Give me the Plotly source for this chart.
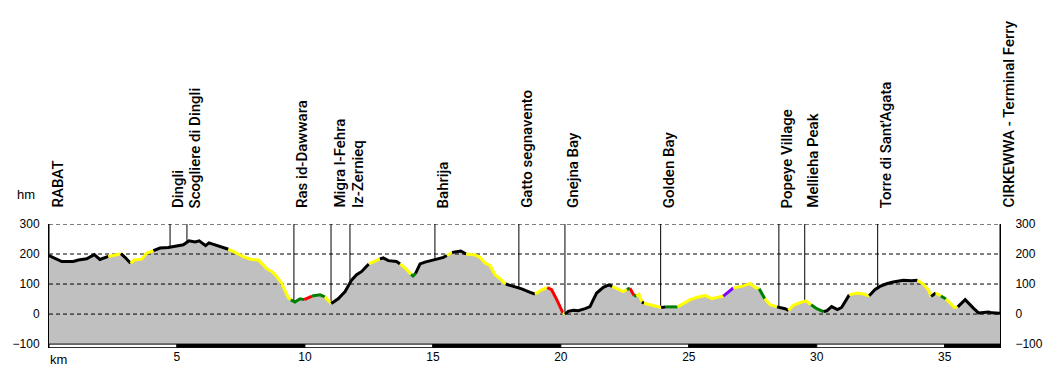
import numpy as np
import plotly.graph_objects as go

# ---- profile data (km, metres) and colour of the segment that starts at each point
km = [0.00, 0.23, 0.50, 0.95, 1.15, 1.47, 1.77, 1.99, 2.19, 2.32, 2.58, 2.81, 2.97, 3.19, 3.33, 3.62, 3.82,
      4.08, 4.34, 4.66, 5.05, 5.25, 5.47, 5.71, 5.87, 6.12, 6.25, 6.49, 6.68, 6.85, 7.01, 7.40, 7.66, 7.92,
      8.18, 8.37, 8.51, 8.70, 8.90, 9.09, 9.22, 9.35, 9.45, 9.61, 9.81, 9.94, 9.97, 10.28, 10.59, 10.78,
      11.03, 11.30, 11.57, 11.83, 12.02, 12.22, 12.41, 12.50, 12.74, 12.93, 13.06, 13.26, 13.58, 13.72,
      13.98, 14.15, 14.22, 14.32, 14.50, 14.69, 14.96, 15.15, 15.41, 15.55, 15.75, 16.09, 16.30, 16.65,
      16.84, 17.04, 17.23, 17.43, 17.63, 17.85, 18.21, 18.47, 18.80, 18.99, 19.25, 19.47, 19.64, 19.84,
      20.03, 20.08, 20.16, 20.29, 20.49, 20.68, 20.95, 21.14, 21.27, 21.40, 21.66, 21.88, 22.01, 22.25,
      22.44, 22.58, 22.70, 22.86, 22.96, 23.05, 23.17, 23.25, 23.49, 23.75, 23.92, 24.10, 24.56, 24.73,
      24.98, 25.05, 25.31, 25.64, 25.90, 26.16, 26.35, 26.74, 27.13, 27.39, 27.59, 27.75, 27.97, 28.18,
      28.45, 28.76, 28.90, 29.08, 29.35, 29.57, 29.78, 30.00, 30.26, 30.39, 30.58, 30.81, 30.97, 31.10,
      31.27, 31.56, 31.82, 32.05, 32.27, 32.47, 32.73, 32.99, 33.38, 33.71, 33.94, 34.16, 34.36, 34.47,
      34.65, 34.85, 35.05, 35.38, 35.51, 35.80, 36.12, 36.32, 36.71, 36.85, 37.16]
elev = [195, 187, 175, 175, 180, 184, 198, 182, 189, 192, 198, 201, 189, 169, 180, 183, 203,
        211, 220, 222, 228, 231, 244, 240, 244, 228, 237, 230, 225, 220, 216, 200, 189, 182,
        180, 164, 151, 142, 125, 103, 81, 55, 47, 40, 51, 47, 48, 60, 64, 57,
        35, 51, 75, 114, 131, 142, 159, 167, 175, 184, 187, 178, 175, 167,
        148, 132, 127, 135, 167, 173, 180, 183, 189, 195, 205, 210, 200, 197,
        189, 170, 162, 131, 117, 100, 90, 84, 72, 67, 81, 88, 81, 48,
        9, 4, 0, 9, 13, 11, 18, 25, 48, 70, 89, 97, 92, 81,
        75, 82, 86, 62, 60, 66, 40, 36, 31, 24, 22, 24, 24, 33,
        44, 48, 55, 62, 51, 55, 60, 87, 94, 102, 89, 84, 51, 31,
        24, 18, 12, 29, 38, 44, 31, 18, 8, 11, 25, 15, 22, 40,
        64, 70, 67, 61, 81, 92, 101, 107, 113, 111, 113, 100, 81, 59,
        70, 60, 50, 22, 24, 48, 20, 4, 7, 4, 3]
seg_color = list(
    "kkkkkkkkkyykkyyyy"
    "kkkkkkkkkkkkkyyyy"
    "yyyyyyyyggggrggy"
    "kkkkkkkyykkkky"
    "yggkkkkkkykkyy"
    "yyyyykkkkyyrrr"
    "rykkkkkkkkkkyy"
    "ygrgyykyyykgyy"
    "yyyyyypyyyygyy"
    "kkyyyyggkkkkkk"
    "yyykkkkkkkyyyk"
    "ygyykkkkkkk"
)
assert len(km) == len(elev) == len(seg_color), (len(km), len(elev), len(seg_color))

color_map = {"k": "#000000", "y": "#FFFF00", "g": "#008000", "r": "#FF0000", "p": "#8000FF"}

# ---- waypoints
wp_names = ["RABAT", "Dingli", "Scogliere di Dingli", "Ras id-Dawwara", "Migra l-Fehra", "Iz-Zernieq",
            "Bahrija", "Gatto segnavento", "Gnejna Bay", "Golden Bay", "Popeye Village", "Mellieha Peak",
            "Torre di Sant'Agata", "CIRKEWWA - Terminal Ferry"]
wp_km = [0.0, 4.73, 5.39, 9.57, 11.02, 11.76, 15.08, 18.36, 20.16, 23.90, 28.52, 29.53, 32.38, 37.16]

y_ticks = [-100, 0, 100, 200, 300]
x_ticks = [5, 10, 15, 20, 25, 30, 35]

x_end = km[-1]
y_min, y_max = -113, 300

fig = go.Figure()

# gray area down to -100
fig.add_trace(go.Scatter(x=km, y=[y_ticks[0]] * len(km), mode="lines", line=dict(width=0),
                         hoverinfo="skip", showlegend=False))
fig.add_trace(go.Scatter(x=km, y=elev, mode="lines", line=dict(width=0), fill="tonexty",
                         fillcolor="#C0C0C0", hoverinfo="skip", showlegend=False))

# dashed grid lines above the area
for v in y_ticks[1:]:
    fig.add_trace(go.Scatter(x=[0, x_end], y=[v, v], mode="lines",
                             line=dict(color="#000000", width=1, dash="4px,3px"),
                             hoverinfo="skip", showlegend=False))

# waypoint lines from top down to profile
wx, wy = [], []
for k in wp_km:
    e = float(np.interp(k, km, elev))
    wx += [k, k, None]
    wy += [y_max, e, None]
fig.add_trace(go.Scatter(x=wx, y=wy, mode="lines", line=dict(color="#000000", width=1),
                         hoverinfo="skip", showlegend=False))

# coloured profile line
i = 0
n = len(km) - 1
while i < n:
    c = seg_color[i]
    j = i
    while j + 1 < n and seg_color[j + 1] == c:
        j += 1
    fig.add_trace(go.Scatter(x=km[i:j + 2], y=elev[i:j + 2], mode="lines",
                             line=dict(color=color_map[c], width=3),
                             hoverinfo="skip", showlegend=False))
    i = j + 1

# km bar at the bottom
bounds = [0] + x_ticks + [x_end]
for idx in range(len(bounds) - 1):
    fig.add_shape(type="rect", xref="x", yref="y", x0=bounds[idx], x1=bounds[idx + 1],
                  y0=y_ticks[0], y1=y_min + 1,
                  fillcolor="#FFFFFF" if idx % 2 == 0 else "#000000",
                  line=dict(color="#000000", width=1), layer="above")

# waypoint labels
for name, k in zip(wp_names, wp_km):
    fig.add_annotation(x=k, y=1, xref="x", yref="paper", text=name, textangle=-90,
                       xanchor="left", yanchor="bottom", yshift=14, xshift=-3, showarrow=False,
                       font=dict(family="Roboto", size=15, color="#000000", weight=500))

fig.add_annotation(x=0, y=1, xref="paper", yref="paper", text="hm", showarrow=False,
                   xanchor="center", yanchor="middle", xshift=-23, yshift=30,
                   font=dict(family="Liberation Sans", size=13, color="#000000"))
fig.add_annotation(x=0, y=0, xref="paper", yref="paper", text="km", showarrow=False,
                   xanchor="left", yanchor="middle", xshift=-1, yshift=-11,
                   font=dict(family="Liberation Sans", size=13, color="#000000"))

tickfont = dict(family="Liberation Sans", size=12, color="#000000")
fig.update_layout(
    width=1050, height=369,
    margin=dict(l=49, r=50, t=224, b=21, autoexpand=False),
    paper_bgcolor="#FFFFFF", plot_bgcolor="#FFFFFF",
    showlegend=False,
    xaxis=dict(range=[0, x_end], tickvals=x_ticks, showgrid=False, zeroline=False, showline=False,
               ticks="", tickfont=tickfont, fixedrange=True, automargin=False),
    yaxis=dict(range=[y_min, y_max], tickvals=y_ticks, showgrid=False, zeroline=False, showline=True,
               linecolor="#000000", linewidth=1, ticks="", tickfont=tickfont, ticklabelstandoff=6,
               automargin=False),
    yaxis2=dict(range=[y_min, y_max], tickvals=y_ticks, showgrid=False, zeroline=False, showline=True,
                linecolor="#000000", linewidth=1, ticks="", tickfont=tickfont, overlaying="y",
                side="right", ticklabelstandoff=12, automargin=False),
)
# invisible trace to activate the right axis
fig.add_trace(go.Scatter(x=[0], y=[0], yaxis="y2", mode="markers", marker=dict(opacity=0),
                         hoverinfo="skip", showlegend=False))

fig.write_html("out.html", config={"displayModeBar": False},
               post_script="document.body.style.margin='0';")
